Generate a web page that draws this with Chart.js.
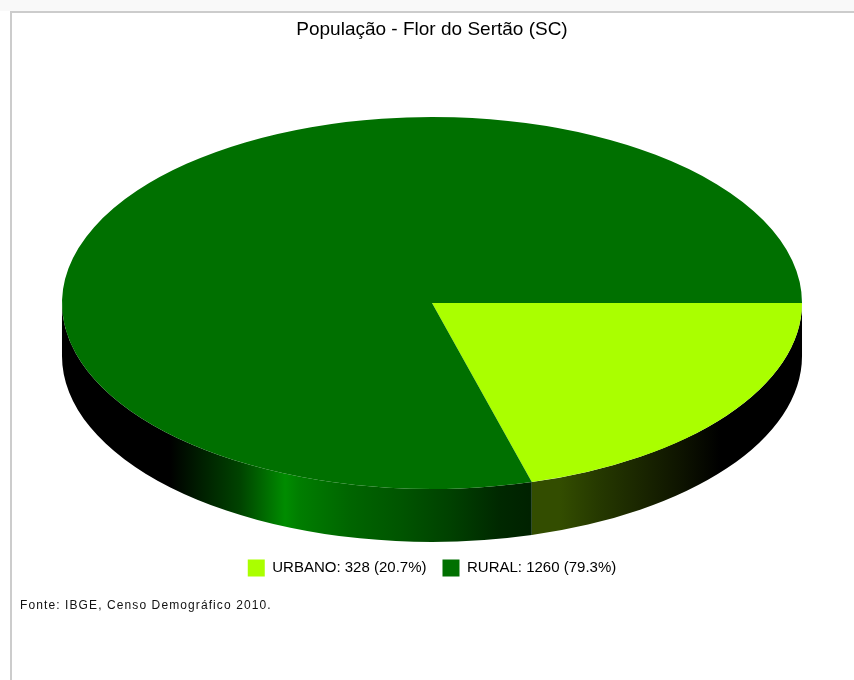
<!DOCTYPE html>
<html>
<head>
<meta charset="utf-8">
<script src="https://cdn.jsdelivr.net/npm/chart.js@4/dist/chart.umd.min.js"></script>
<style>
html,body{margin:0;padding:0;background:#fff;}
#wrap{position:relative;width:854px;height:680px;overflow:hidden;background:#fff;}
#topstrip{position:absolute;left:0;top:0;width:854px;height:11px;background:#f9f9f9;}
#frame{position:absolute;left:10px;top:11px;width:900px;height:700px;border-left:2px solid #cccccc;border-top:2px solid #cccccc;}
canvas{position:absolute;left:0;top:0;}
#fonte{position:absolute;left:20px;top:598px;font:12px "Liberation Sans",Arial,sans-serif;letter-spacing:1.1px;color:#111;white-space:nowrap;}
</style>
</head>
<body>
<div id="wrap">
  <div id="topstrip"></div>
  <div id="frame"></div>
  <canvas id="c" width="854" height="680"></canvas>
  <div id="fonte"></div>
</div>
<script>
// ---- data ----
const chartTitle = 'População - Flor do Sertão (SC)';
const categories = ['URBANO', 'RURAL'];
const population = [328, 1260];
const sliceColors = ['#aaff00', '#007000'];
const sourceNote = 'Fonte: IBGE, Censo Demográfico 2010.';

document.getElementById('fonte').textContent = sourceNote;

// ---- 3D projection style ----
const PROJ = { stretch: 1.5385, tilt: 0.7734, depth: 0.22 };
// side lighting: [u = relative x across the pie (-1..1), brightness]
const SIDE_LIGHT = [
  [-1, 0], [-0.708, 0], [-0.627, 0.27], [-0.519, 0.6], [-0.397, 1.25], [-0.357, 1.12],
  [-0.222, 0.9], [-0.086, 0.76], [0.049, 0.58], [0.184, 0.36], [0.265, 0.3], [0.346, 0.3],
  [0.454, 0.22], [0.562, 0.15], [0.670, 0.08], [0.778, 0], [1, 0]
];

function hexToRgb(h) {
  const n = parseInt(h.slice(1), 16);
  return [(n >> 16) & 255, (n >> 8) & 255, n & 255];
}
function shade(rgb, k) {
  return 'rgb(' + rgb.map(v => Math.min(255, Math.round(v * k))).join(',') + ')';
}

const pie3d = {
  id: 'pie3d',
  beforeDatasetsDraw(chart) {
    const meta = chart.getDatasetMeta(0);
    const first = meta.data[0];
    if (!first) return;
    const cx = first.x, cy = first.y, r = first.outerRadius;
    const rx = r * PROJ.stretch, ry = r * PROJ.tilt, depth = r * PROJ.depth;
    const ctx = chart.ctx;
    ctx.save();
    meta.data.forEach((arc, i) => {
      const a = arc.startAngle, b = arc.endAngle;
      const base = hexToRgb(chart.data.datasets[0].backgroundColor[i]);
      for (let k = -1; k <= 1; k++) {
        const lo = Math.max(a, 2 * Math.PI * k), hi = Math.min(b, 2 * Math.PI * k + Math.PI);
        if (hi <= lo) continue;
        const g = ctx.createLinearGradient(cx - rx, 0, cx + rx, 0);
        SIDE_LIGHT.forEach(([u, br]) => g.addColorStop((u + 1) / 2, shade(base, br)));
        ctx.beginPath();
        ctx.ellipse(cx, cy, rx, ry, 0, lo, hi, false);
        ctx.ellipse(cx, cy + depth, rx, ry, 0, hi, lo, true);
        ctx.closePath();
        ctx.fillStyle = g;
        ctx.fill();
      }
    });
    ctx.restore();
    ctx.save();
    ctx.translate(cx, cy);
    ctx.scale(PROJ.stretch, PROJ.tilt);
    ctx.translate(-cx, -cy);
  },
  afterDatasetsDraw(chart) {
    chart.ctx.restore();
  }
};

const total = population.reduce((s, v) => s + v, 0);

new Chart(document.getElementById('c'), {
  type: 'pie',
  data: {
    labels: categories,
    datasets: [{
      data: population,
      backgroundColor: sliceColors,
      borderWidth: 0,
      hoverBorderWidth: 0,
      hoverOffset: 0,
      clip: false
    }]
  },
  options: {
    responsive: false,
    animation: false,
    events: [],
    rotation: 90,
    layout: { padding: { left: 10, right: 0, top: 0, bottom: 93.5 } },
    plugins: {
      title: {
        display: true,
        text: chartTitle,
        color: '#000',
        font: { family: '"Liberation Sans", Arial, sans-serif', size: 19, weight: 'normal' },
        padding: { top: 18, bottom: 21.7 }
      },
      legend: {
        display: true,
        position: 'bottom',
        labels: {
          color: '#000',
          font: { family: '"Liberation Sans", Arial, sans-serif', size: 15 },
          boxWidth: 17,
          boxHeight: 17,
          padding: 16,
          generateLabels(chart) {
            const ds = chart.data.datasets[0];
            return chart.data.labels.map((lab, i) => ({
              text: lab + ': ' + ds.data[i] + ' (' + (ds.data[i] / total * 100).toFixed(1) + '%)',
              fillStyle: ds.backgroundColor[i],
              strokeStyle: ds.backgroundColor[i],
              lineWidth: 0,
              hidden: false,
              index: i
            }));
          }
        }
      },
      tooltip: { enabled: false }
    }
  },
  plugins: [pie3d]
});
</script>
</body>
</html>
